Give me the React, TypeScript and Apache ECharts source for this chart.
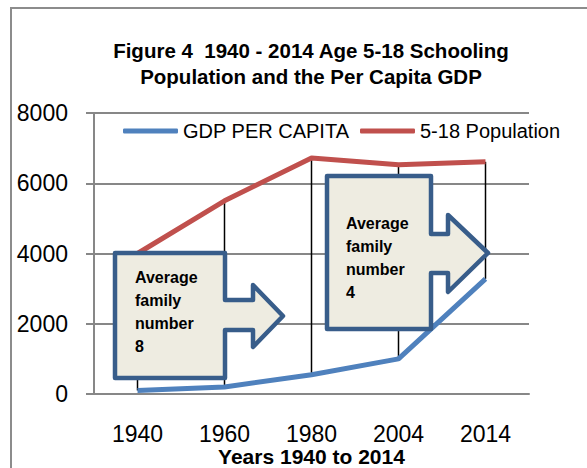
import React, { useEffect, useRef } from "react";
import * as echarts from "echarts";

const categories = ["1940", "1960", "1980", "2004", "2014"];
const gdpPerCapita = [100, 200, 550, 1000, 3280];
const population518 = [4000, 5500, 6720, 6530, 6610];
const yTicks = { min: 0, max: 8000, interval: 2000 };
const titleLines = ["Figure 4  1940 - 2014 Age 5-18 Schooling", "Population and the Per Capita GDP"];
const callout1 = ["Average", "family", "number", "8"];
const callout2 = ["Average", "family", "number", "4"];

const FONT = "'Liberation Sans', Arial, sans-serif";
const GRID = "#878787";
const BOX_STROKE = "#385d8a";
const BOX_FILL = "#eeece1";

export default function App() {
  const ref = useRef<HTMLDivElement>(null);
  useEffect(() => {
    if (!ref.current) return;
    const chart = echarts.init(ref.current, undefined, { renderer: "svg" });
    const hiLow = categories.map((_, i) => [i, gdpPerCapita[i], population518[i]]);
    const legendBase = {
      top: 116,
      icon: "roundRect",
      itemWidth: 55,
      itemHeight: 5,
      textStyle: { fontFamily: FONT, fontSize: 20, color: "#000" },
    };
    chart.setOption({
      animation: false,
      textStyle: { fontFamily: FONT },
      title: {
        text: titleLines.join("\n"),
        left: 306,
        top: 32,
        textAlign: "center",
        textStyle: { fontFamily: FONT, fontSize: 20.5, fontWeight: "bold", color: "#000", lineHeight: 26 },
      },
      legend: [
        { ...legendBase, data: ["GDP PER CAPITA"], left: 118 },
        { ...legendBase, data: ["5-18 Population"], left: 355 },
      ],
      grid: { left: 94, right: 58, top: 113, bottom: 74, containLabel: false, outerBoundsMode: "none" },
      xAxis: {
        type: "category",
        data: categories,
        boundaryGap: true,
        axisLine: { show: true, lineStyle: { color: GRID, width: 2 } },
        axisTick: { show: false },
        axisLabel: { fontFamily: FONT, fontSize: 23, lineHeight: 23, color: "#000", margin: 28 },
        name: "Years 1940 to 2014",
        nameLocation: "middle",
        nameMoveOverlap: false,
        nameGap: 52,
        nameTextStyle: { fontFamily: FONT, fontSize: 21, lineHeight: 21, fontWeight: "bold", color: "#000" },
      },
      yAxis: {
        type: "value",
        min: yTicks.min,
        max: yTicks.max,
        interval: yTicks.interval,
        axisLine: { show: true, lineStyle: { color: GRID, width: 2 } },
        axisTick: { show: true, length: 8, lineStyle: { color: GRID, width: 2 } },
        splitLine: { show: true, lineStyle: { color: GRID, width: 2 } },
        axisLabel: {
          fontFamily: FONT,
          fontSize: 23,
          color: "#000",
          margin: 26,
          formatter: (v: number) => String(v),
        },
      },
      series: [
        {
          type: "custom",
          data: hiLow,
          z: 1,
          silent: true,
          renderItem: (params: any, api: any) => {
            const p1 = api.coord([api.value(0), api.value(1)]);
            const p2 = api.coord([api.value(0), api.value(2)]);
            return {
              type: "line",
              shape: { x1: p1[0], y1: p1[1], x2: p2[0], y2: p2[1] },
              style: { stroke: "#000", lineWidth: 1.5 },
            };
          },
        },
        {
          name: "GDP PER CAPITA",
          type: "line",
          data: gdpPerCapita,
          showSymbol: false,
          symbol: "none",
          z: 3,
          lineStyle: { color: "#4f81bd", width: 5 },
          itemStyle: { color: "#4f81bd" },
        },
        {
          name: "5-18 Population",
          type: "line",
          data: population518,
          showSymbol: false,
          symbol: "none",
          z: 3,
          lineStyle: { color: "#c0504d", width: 5 },
          itemStyle: { color: "#c0504d" },
        },
      ],
      graphic: [
        {
          type: "rect",
          shape: { x: 11, y: 8, width: 700, height: 600 },
          style: { fill: "none", stroke: "#8c8c8c", lineWidth: 2 },
          z: 0,
          silent: true,
        },
        {
          type: "polygon",
          z: 10,
          shape: {
            points: [
              [115, 253], [225, 253], [225, 300], [253, 300], [253, 285], [283, 316],
              [253, 347], [253, 330], [225, 330], [225, 378], [115, 378],
            ],
          },
          style: { fill: BOX_FILL, stroke: BOX_STROKE, lineWidth: 4.5, lineJoin: "round" },
        },
        {
          type: "text",
          z: 11,
          x: 135,
          y: 266,
          style: {
            text: callout1.join("\n"),
            fontFamily: FONT,
            fontSize: 16,
            fontWeight: "bold",
            lineHeight: 23,
            fill: "#000",
          },
        },
        {
          type: "polygon",
          z: 10,
          shape: {
            points: [
              [327, 176], [431, 176], [431, 234], [448, 234], [448, 215], [488, 253],
              [448, 292], [448, 273], [431, 273], [431, 329], [327, 329],
            ],
          },
          style: { fill: BOX_FILL, stroke: BOX_STROKE, lineWidth: 4.5, lineJoin: "round" },
        },
        {
          type: "text",
          z: 11,
          x: 346,
          y: 212,
          style: {
            text: callout2.join("\n"),
            fontFamily: FONT,
            fontSize: 16,
            fontWeight: "bold",
            lineHeight: 23,
            fill: "#000",
          },
        },
      ],
    });
    return () => chart.dispose();
  }, []);
  return <div ref={ref} style={{ width: 587, height: 468, position: "absolute", left: 0, top: 0 }} />;
}
